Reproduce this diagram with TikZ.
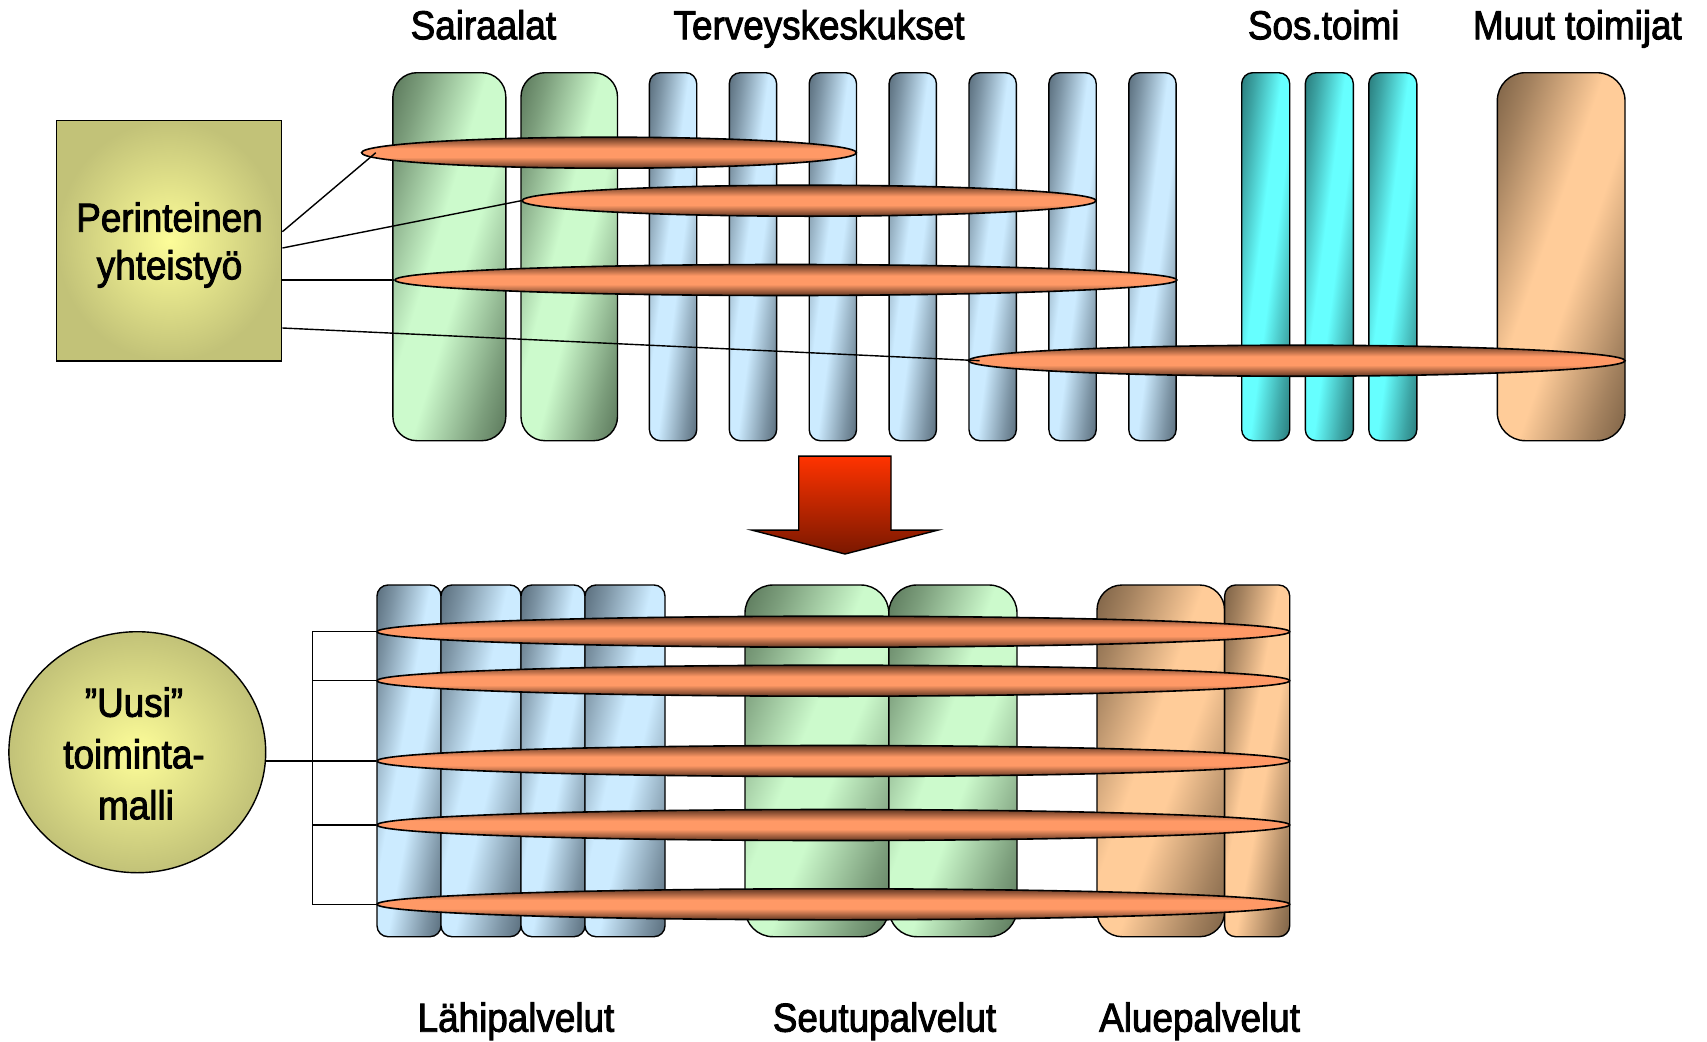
\documentclass[tikz,border=0pt]{standalone}
\usepackage{fontspec}
\setmainfont[FakeStretch=0.91,FakeBold=2.2]{Liberation Sans}
\usetikzlibrary{shapes.geometric,calc}
\definecolor{bDk}{HTML}{5A6E7D}
\definecolor{bLt}{HTML}{CCEBFF}
\definecolor{gDk}{HTML}{5A775A}
\definecolor{gLt}{HTML}{CCFACC}
\definecolor{cDk}{HTML}{2A7C7C}
\definecolor{cLt}{HTML}{66FFFF}
\definecolor{tDk}{HTML}{7D6246}
\definecolor{tLt}{HTML}{FFCC99}
\definecolor{oDk}{HTML}{6A3C26}
\definecolor{oLt}{HTML}{FF9966}
\definecolor{yIn}{HTML}{FDFD99}
\definecolor{yOut}{HTML}{C2C278}
\definecolor{arTop}{HTML}{FF3300}
\definecolor{arBot}{HTML}{7A1800}
\colorlet{bMd}{bDk!70!bLt}
\colorlet{gMd}{gDk!70!gLt}
\colorlet{cMd}{cDk!70!cLt}
\colorlet{tMd}{tDk!70!tLt}
\pgfdeclarehorizontalshading{blueS}{100bp}{color(0bp)=(bDk); color(25bp)=(bDk); color(32bp)=(bMd); color(46bp)=(bLt); color(54bp)=(bLt); color(68bp)=(bMd); color(75bp)=(bDk); color(100bp)=(bDk)}
\pgfdeclarehorizontalshading{greenS}{100bp}{color(0bp)=(gDk); color(25bp)=(gDk); color(32bp)=(gMd); color(46bp)=(gLt); color(54bp)=(gLt); color(68bp)=(gMd); color(75bp)=(gDk); color(100bp)=(gDk)}
\pgfdeclarehorizontalshading{cyanS}{100bp}{color(0bp)=(cDk); color(25bp)=(cDk); color(32bp)=(cMd); color(46bp)=(cLt); color(54bp)=(cLt); color(68bp)=(cMd); color(75bp)=(cDk); color(100bp)=(cDk)}
\pgfdeclarehorizontalshading{tanS}{100bp}{color(0bp)=(tDk); color(25bp)=(tDk); color(32bp)=(tMd); color(46bp)=(tLt); color(54bp)=(tLt); color(68bp)=(tMd); color(75bp)=(tDk); color(100bp)=(tDk)}
\pgfdeclareverticalshading{orS}{100bp}{color(0bp)=(oDk); color(26bp)=(oDk); color(43bp)=(oLt); color(57bp)=(oLt); color(74bp)=(oDk); color(100bp)=(oDk)}
\tikzset{
  colframe/.style={rectangle, draw=black, line width=1.4pt, inner sep=0pt},
  ring/.style={ellipse, draw=black, line width=1.6pt, inner sep=0pt, shade, shading=orS, minimum height=31pt},
  yel/.style={draw=black, line width=1.4pt, inner sep=0pt, inner color=yIn, outer color=yOut},
  lbl/.style={font=\fontsize{40.5}{48}\selectfont, inner sep=0pt, anchor=base},
  conn/.style={draw=black, line width=1.4pt},
}
% #1 name, #2 shading, #3 angle, #4 half extent, #5 cx, #6 cy, #7 width, #8 height, #9 corner radius
\newcommand\mkcol[9]{%
  \begin{scope}
    \clip[rounded corners=#9pt] ({#5-#7/2},{#6-#8/2}) rectangle ({#5+#7/2},{#6+#8/2});
    \shade[shading=#2, transform canvas={shift={(#5,#6)}, rotate=-#3, xscale=#4/260}] (-260pt,-260pt) rectangle (260pt,260pt);
  \end{scope}
  \node[colframe, rounded corners=#9pt, minimum width=#7pt, minimum height=#8pt] (#1) at (#5,#6) {};
}
\begin{document}
\begin{tikzpicture}[x=1pt,y=-1pt]
\useasboundingbox (0,0) rectangle (1707,1041);
\fill[white] (0,0) rectangle (1707,1041);
% ---------- top columns
\mkcol{tg1}{greenS}{17.06}{107.9}{449.35}{256.7}{112.9}{368}{24}
\mkcol{tg2}{greenS}{14.7}{93.35}{569.25}{256.7}{96.5}{368}{24}
\foreach \i/\x in {1/673.05,2/752.95,3/832.85,4/912.75,5/992.65,6/1072.55,7/1152.45}
  {\mkcol{tb\i}{blueS}{7.32}{46.9}{\x}{256.7}{47.3}{368}{11}}
\foreach \i/\x in {1/1265.7,2/1329.3,3/1392.8}
  {\mkcol{tc\i}{cyanS}{7.43}{47.6}{\x}{256.7}{48}{368}{11}}
\mkcol{tt1}{tanS}{19.13}{120.6}{1561.15}{256.7}{127.7}{368}{28}
% ---------- top rings
\node[ring, minimum width=494.7pt] (e1) at (608.95,152.7) {};
\node[ring, minimum width=574pt] (e2) at (809,200.7) {};
\node[ring, minimum width=781.8pt] (e3) at (785.9,280) {};
\node[ring, minimum width=656.5pt] (e4) at (1296.75,360.7) {};
% ---------- box
\node[yel, rectangle, minimum width=225.1pt, minimum height=240.7pt] (box) at (169.15,240.65) {};
\node[lbl] (bx1) at (169.5,231.7) {Perinteinen};
\node[lbl] (bx2) at (169.5,279.3) {yhteistyö};
\draw[conn] ([yshift=8.95pt]box.east) -- ([xshift=15pt]e1.west);
\draw[conn] ([yshift=-7.35pt]box.east) -- (e2.west);
\draw[conn] (box.east |- e3.west) -- (e3.west);
\draw[conn] ([yshift=-87.35pt]box.east) -- ([xshift=12pt]e4.west);
% ---------- arrow
\shade[top color=arTop, bottom color=arBot, draw=black, line width=1.4pt]
  (798.7,456.1) -- (891,456.1) -- (891,530.1) -- (938,530.1) -- (845,554)
  -- (751.8,530.1) -- (798.7,530.1) -- cycle;
% ---------- bottom columns
\mkcol{bb1}{blueS}{10.31}{62.96}{409}{760.85}{64}{351.7}{11}
\mkcol{bb2}{blueS}{12.82}{78.0}{481}{760.85}{80}{351.7}{11}
\mkcol{bb3}{blueS}{10.31}{62.96}{553}{760.85}{64}{351.7}{11}
\mkcol{bb4}{blueS}{12.82}{78.0}{625}{760.85}{80}{351.7}{11}
\mkcol{bg1}{greenS}{22.24}{133.1}{816.9}{760.85}{143.8}{351.7}{28}
\mkcol{bg2}{greenS}{20.03}{120.5}{952.9}{760.85}{128.2}{351.7}{28}
\mkcol{bt1}{tanS}{19.94}{120.0}{1160.8}{760.85}{127.6}{351.7}{25}
\mkcol{bt2}{tanS}{10.49}{64.0}{1257.15}{760.85}{65.1}{351.7}{11}
% ---------- bottom rings
\foreach \i/\y in {1/631.7,2/680.7,3/761,4/825,5/904.3}
  \node[ring, minimum width=912.7pt] (l\i) at (833.35,\y) {};
% ---------- circle
\node[yel, ellipse, minimum width=256.8pt, minimum height=241pt] (uc) at (137.3,752.2) {};
\node[lbl] (u1) at (134,716.7) {”Uusi”};
\node[lbl] (u2) at (134,768.3) {toiminta-};
\node[lbl] (u3) at (136,819.3) {malli};
\coordinate (br) at (312.5,761);
\draw[conn] (l1.west) -- (l1.west -| br) -- (l5.west -| br) -- (l5.west);
\draw[conn] (l2.west -| br) -- (l2.west);
\draw[conn] (l4.west -| br) -- (l4.west);
\draw[conn] (uc.east |- l3.west) -- (l3.west);
% ---------- labels
\node[lbl] (hSai) at (483.4,39.3) {Sairaalat};
\node[lbl] (hTer) at (819,39.3) {Terveyskeskukset};
\node[lbl] (hSos) at (1323.7,39.3) {Sos.toimi};
\node[lbl] (hMuu) at (1577.4,39.3) {Muut toimijat};
\node[lbl] (fLah) at (516,1031.7) {Lähipalvelut};
\node[lbl] (fSeu) at (884.5,1031.7) {Seutupalvelut};
\node[lbl] (fAlu) at (1199.6,1031.7) {Aluepalvelut};
\end{tikzpicture}
\end{document}
